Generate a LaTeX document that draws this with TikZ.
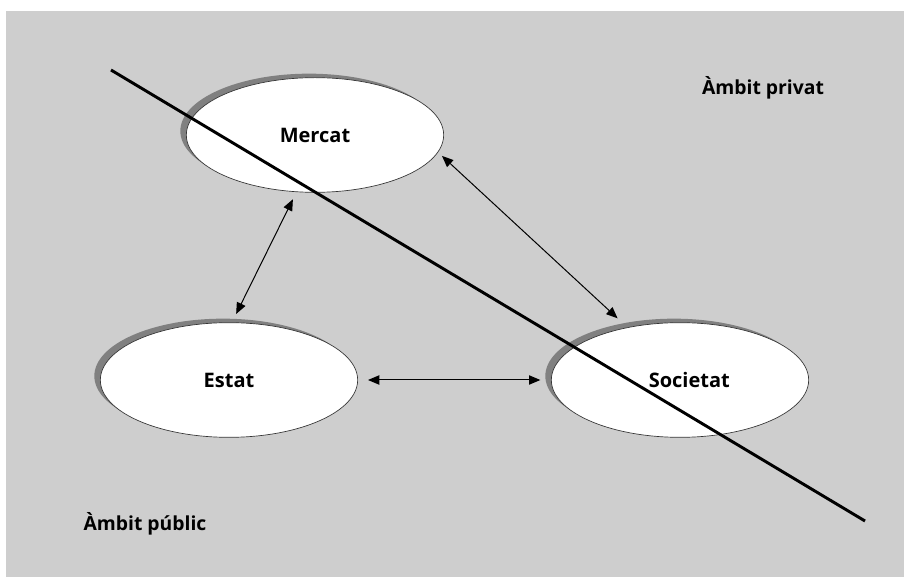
\documentclass[tikz,border=0pt]{standalone}
\usepackage{fontspec}
\setmainfont{Open Sans}
\usetikzlibrary{arrows.meta,shapes.geometric,shadows}
\definecolor{fons}{RGB}{206,206,206}
\definecolor{ombra}{RGB}{128,128,128}
\tikzset{
  ambit/.style={ellipse, draw=black!80, line width=0.5pt, fill=white,
    minimum width=193pt, minimum height=86pt, inner sep=0pt,
    font=\fontsize{15}{18}\selectfont\bfseries,
    general shadow={shadow xshift=-4.5pt, shadow yshift=3pt, fill=ombra}},
  relacio/.style={{Triangle[length=8.5pt,width=7pt]}-{Triangle[length=8.5pt,width=7pt]}, line width=0.75pt},
  rotul/.style={font=\fontsize{14.5}{17}\selectfont\bfseries}
}

\begin{document}
\begin{tikzpicture}[x=0.75pt,y=-0.75pt]
% Fons gris
\useasboundingbox (0,0) rectangle (904,577);
\fill[fons] (6,11) rectangle (904,577);

% Els tres actors
\node[ambit] (mercat) at (315,135) {Mercat};
\node[ambit] (estat) at (229,380) {Estat};
\node[ambit] (societat) at (680,380) {\hspace*{14pt}Societat};

% Relacions entre actors
\draw[relacio, shorten <=6pt, shorten >=7pt] (mercat.-108) -- (estat.87);
\draw[relacio, shorten <=4pt, shorten >=10pt] (mercat.-8) -- (societat.135);
\draw[relacio, shorten <=7.5pt, shorten >=8pt] (estat.east) -- (societat.west);

% Frontera entre public i privat
\coordinate (dalt) at (111,70);
\coordinate (baix) at (865,521);
\draw[line width=2.2pt] (dalt) -- (baix);

% Rotuls dels ambits
\node[rotul] (privat) at (763,88) {Àmbit privat};
\node[rotul] (public) at (145,524) {Àmbit públic};
\end{tikzpicture}
\end{document}
